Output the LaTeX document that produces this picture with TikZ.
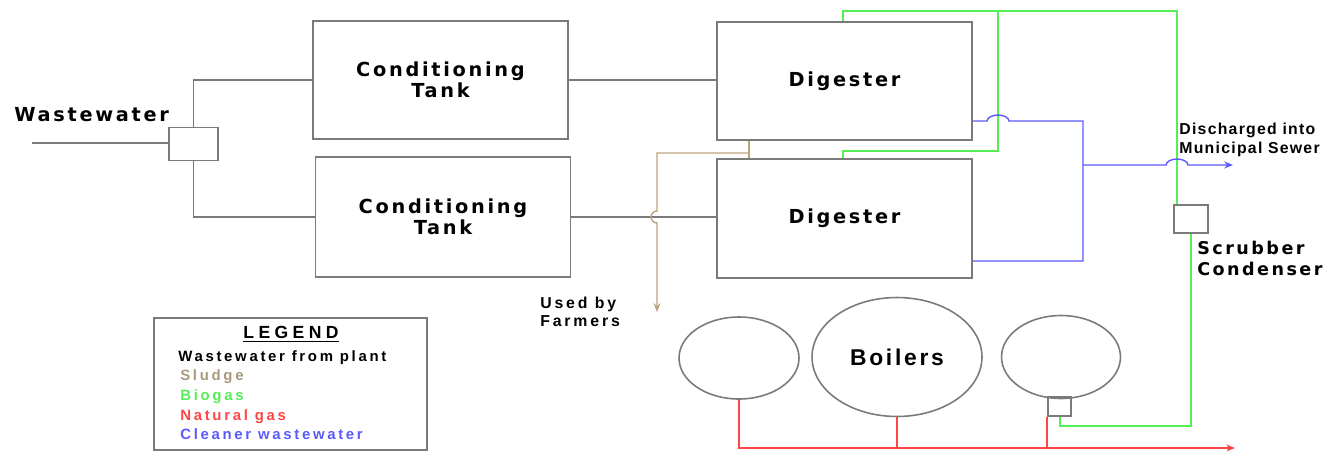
\documentclass[tikz,border=0pt]{standalone}
\usepackage{fontspec}
\setmainfont{Liberation Sans}
\newfontfamily\labelfont{DejaVu Sans}[LetterSpace=14]
\newfontfamily\headfont{Liberation Sans}[LetterSpace=25]
\newfontfamily\notefont{Liberation Sans}[LetterSpace=18]
\newfontfamily\sewerfont{Liberation Sans}[LetterSpace=8]
\newfontfamily\boilfont{Liberation Sans}[LetterSpace=12]
\usetikzlibrary{arrows.meta,shapes.geometric}
\definecolor{Pipe}{HTML}{7A7A7A}
\definecolor{Sludge}{HTML}{BBA47C}
\definecolor{SludgeTxt}{HTML}{A89A7C}
\definecolor{Biogas}{HTML}{55EE55}
\definecolor{NatGas}{HTML}{FF4545}
\definecolor{CleanW}{HTML}{5A5AFF}

\begin{document}
\begin{tikzpicture}[x=0.02cm,y=-0.02cm,>={Stealth[length=5pt,width=4pt]},
    unit/.style={draw=Pipe,line width=1.1pt,minimum width=5.1cm,minimum height=2.36cm,align=center,font={\labelfont\bfseries\fontsize{11}{12}\selectfont}},
    smallbox/.style={draw=Pipe,line width=1pt,inner sep=0pt},
    tankoval/.style={ellipse,draw=Pipe,line width=0.9pt,inner sep=0pt},
    tag/.style={inner sep=0pt,align=left},
    legitem/.style={inner sep=0pt,anchor=west,font={\notefont\bfseries\fontsize{8.5}{10}\selectfont}},
    pipe/.style={draw=Pipe,line width=1.1pt},
    sludge/.style={draw=Sludge,line width=0.8pt},
    biogas/.style={draw=Biogas,line width=0.8pt},
    clean/.style={draw=CleanW,line width=0.8pt},
    natgas/.style={draw=NatGas,line width=0.8pt}]
    \useasboundingbox (0,0) rectangle (1335,450);

    % process units
    \node[smallbox,minimum width=0.98cm,minimum height=0.66cm] (split) at (193.5,144) {};
    \node[unit] (tank1) at (440.5,80) {Conditioning\\Tank};
    \node[unit,minimum height=2.4cm] (tank2) at (443,217) {Conditioning\\Tank};
    \node[unit] (dig1) at (844.5,81) {Digester};
    \node[unit,minimum height=2.38cm] (dig2) at (844.5,218.5) {Digester};
    \node[smallbox,minimum width=0.68cm,minimum height=0.56cm] (scrub) at (1191,219) {};
    \node[tankoval,minimum width=2.4cm,minimum height=1.64cm] (boil1) at (739,358) {};
    \node[tankoval,minimum width=3.4cm,minimum height=2.38cm,font={\boilfont\bfseries\fontsize{13}{15}\selectfont}] (boil2) at (897,357) {Boilers};
    \node[tankoval,minimum width=2.38cm,minimum height=1.66cm] (boil3) at (1061,357) {};
    \node[smallbox,minimum width=0.46cm,minimum height=0.38cm] (valve) at (1059.5,406.5) {};

    % labels
    \node[tag,anchor=west,font={\labelfont\bfseries\fontsize{11}{12}\selectfont}] (wwlabel) at (14,115) {Wastewater};
    \node[tag,anchor=west,font={\notefont\bfseries\fontsize{9}{10.2}\selectfont}] (farmers) at (540,312) {Used by\\Farmers};
    \node[tag,anchor=west,font={\sewerfont\bfseries\fontsize{9}{10.8}\selectfont}] (sewer) at (1179,140) {Discharged into\\Municipal Sewer};
    \node[tag,anchor=west,font={\labelfont\bfseries\fontsize{10}{12}\selectfont}] (scrlabel) at (1197,258) {Scrubber\\Condenser};

    % legend
    \node[draw=Pipe,line width=0.9pt,minimum width=5.46cm,minimum height=2.64cm,anchor=north west,inner sep=0pt] (legend) at (153,317) {};
    \node[inner sep=0pt,font={\headfont\bfseries\fontsize{10}{12}\selectfont}] (leghead) at (291,334) {\underline{LEGEND}};
    \node[legitem] (leg1) at (178,358) {Wastewater from plant};
    \node[legitem,text=SludgeTxt] (leg2) at (180,377) {Sludge};
    \node[legitem,text=Biogas] (leg3) at (180,397) {Biogas};
    \node[legitem,text=NatGas] (leg4) at (180,417) {Natural gas};
    \node[legitem,text=CleanW] (leg5) at (180,434) {Cleaner wastewater};

    % wastewater from plant
    \coordinate (wwin) at (32,143);
    \draw[pipe] (wwin) -- (wwin -| split.west);
    \draw[pipe] (split.north) |- (tank1.west);
    \draw[pipe] (split.south) |- (tank2.west);
    \draw[pipe] (tank1.east) -- (tank1.east -| dig1.west);
    \draw[pipe] (tank2.east) -- (tank2.east -| dig2.west);

    % sludge
    \coordinate (sl) at (749,153);
    \coordinate (slhop) at (657,217);
    \coordinate (farmtip) at (657,312);
    \draw[sludge] (dig1.south -| sl) -- (dig2.north -| sl);
    \draw[sludge,->] (sl) -| ([yshift=3.4pt]slhop) arc[start angle=90,end angle=270,radius=3.4pt] -- (farmtip);

    % biogas
    \coordinate (bgL) at (843,11);
    \coordinate (bgM) at (998,11);
    \coordinate (bgR) at (1177,11);
    \coordinate (bgD) at (843,151);
    \coordinate (bgB) at (1060,426);
    \draw[biogas] (dig1.north -| bgL) -- (bgL) -- (bgR) -- (bgR |- scrub.north);
    \draw[biogas] (bgM) |- (bgD) -- (bgD |- dig2.north);
    \draw[biogas] (scrub.south) |- (bgB) -- (bgB |- valve.south);

    % cleaner wastewater
    \coordinate (cwT) at (1083,121);
    \coordinate (cwM) at (1083,165);
    \coordinate (cwB) at (1083,261);
    \coordinate (hopA) at (998,121);
    \coordinate (hopB) at (1177,165);
    \coordinate (sewtip) at (1233,165);
    \draw[clean] (cwT -| dig1.east) -- ([xshift=-6.2pt]hopA) arc[start angle=180,end angle=0,x radius=6.2pt,y radius=3.4pt] -- (cwT) -- (cwB) -- (cwB -| dig2.east);
    \draw[clean,->] (cwM) -- ([xshift=-6.2pt]hopB) arc[start angle=180,end angle=0,x radius=6.2pt,y radius=3.4pt] -- (sewtip);

    % natural gas
    \coordinate (ngtip) at (1235,448);
    \draw[natgas,->] (boil1.south) |- (ngtip);
    \draw[natgas] (boil2.south) -- (boil2.south |- ngtip);
    \draw[natgas] (valve.south west) -- (valve.south west |- ngtip);
\end{tikzpicture}
\end{document}
